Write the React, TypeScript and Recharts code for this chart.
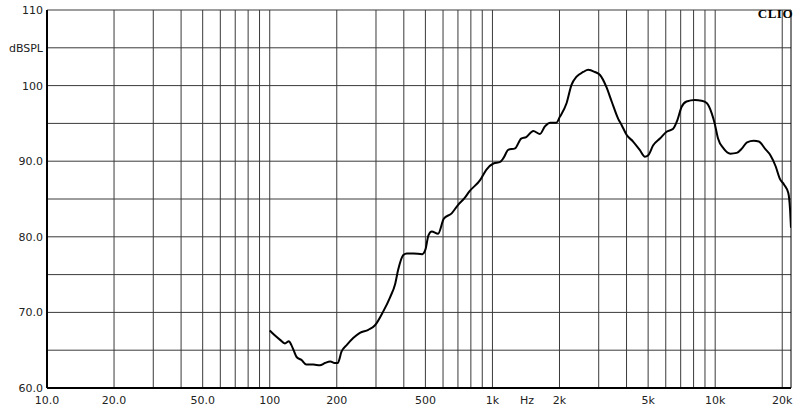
import { CartesianGrid, Line, LineChart, ReferenceLine, XAxis, YAxis } from "recharts";

// frequency response (Hz / dB SPL)
const freqs = [
  100, 105, 111, 117, 122, 125, 128, 132, 139, 146, 157, 168, 177, 187, 197, 202, 210, 222, 237, 254,
  277, 297, 323, 347, 366, 377, 398, 413, 442, 483, 500, 516, 534, 570, 605, 656, 700, 749, 788, 880,
  940, 1010, 1083, 1120, 1177, 1264, 1346, 1418, 1525, 1634, 1720, 1820, 1935, 2010, 2153, 2264, 2387,
  2557, 2690, 2885, 3040, 3250, 3430, 3670, 3800, 4000, 4280, 4585, 4837, 5005, 5270, 5650, 6050, 6480,
  6760, 7070, 7440, 8110, 8680, 9160, 9660, 9950, 10300, 10900, 11700, 12500, 13200, 13900, 14900,
  15700, 16800, 17700, 18700, 19500, 20400, 21300, 21700, 21900,
];
const spl = [
  67.6, 67.0, 66.4, 65.9, 66.2, 65.7, 65.0, 64.1, 63.7, 63.1, 63.1, 63.0, 63.3, 63.5, 63.3, 63.3, 64.8,
  65.7, 66.6, 67.3, 67.7, 68.3, 70.1, 72.0, 73.8, 75.6, 77.6, 77.8, 77.8, 77.7, 78.3, 80.2, 80.7, 80.4,
  82.4, 83.1, 84.2, 85.1, 86.0, 87.5, 88.9, 89.7, 89.9, 90.4, 91.5, 91.7, 93.0, 93.2, 94.0, 93.6, 94.6,
  95.1, 95.1, 95.9, 97.7, 100.1, 101.2, 101.8, 102.1, 101.8, 101.4, 99.8, 97.9, 95.6, 94.8, 93.5, 92.6,
  91.5, 90.6, 90.8, 92.1, 93.0, 93.9, 94.3, 95.4, 97.2, 97.9, 98.1, 98.0, 97.7, 96.3, 95.0, 93.0, 91.7,
  91.0, 91.1, 91.7, 92.5, 92.7, 92.6, 91.6, 90.8, 89.3, 87.7, 86.9, 85.8, 83.5, 81.2,
];

const xLabelTicks = [10, 20, 50, 100, 200, 500, 1000, 1430, 2000, 5000, 10000, 20000];
const xLabels: Record<number, string> = {
  10: "10.0", 20: "20.0", 50: "50.0", 100: "100", 200: "200", 500: "500",
  1000: "1k", 1430: "Hz", 2000: "2k", 5000: "5k", 10000: "10k", 20000: "20k",
};
const xGrid = [
  20, 30, 40, 50, 60, 70, 80, 90, 100, 200, 300, 400, 500, 600, 700, 800, 900, 1000,
  2000, 3000, 4000, 5000, 6000, 7000, 8000, 9000, 10000, 20000,
];
const yTicks = [60, 65, 70, 75, 80, 85, 90, 95, 100, 105, 110];
const yLabels: Record<number, string> = {
  60: "60.0", 70: "70.0", 80: "80.0", 90: "90.0", 100: "100", 105: "dBSPL", 110: "110",
};
const yMinor = Array.from({ length: 51 }, (_, i) => 60 + i);

const data = freqs.map((f, i) => ({ f, db: spl[i] }));

const font = { fontSize: 11, fill: "#222", fontFamily: "DejaVu Sans" };

export default function App() {
  return (
    <div style={{ position: "absolute", left: 0, top: 0, width: 800, height: 407, background: "#fff" }}>
      <LineChart width={800} height={407} data={data} margin={{ top: 10, right: 0, bottom: 0, left: 0 }}>
        <CartesianGrid vertical={false} stroke="#3a3a3a" strokeWidth={1} />
        <XAxis
          dataKey="f"
          type="number"
          scale="log"
          domain={[10, 21900]}
          allowDataOverflow
          ticks={xLabelTicks}
          tickFormatter={(v) => xLabels[v] ?? ""}
          tickLine={false}
          axisLine={{ stroke: "#000", strokeWidth: 2 }}
          tick={font}
          height={19}
          interval={0}
        />
        <YAxis
          domain={[60, 110]}
          ticks={yTicks}
          tickFormatter={(v) => yLabels[v] ?? ""}
          tickLine={false}
          tickSize={2}
          tickMargin={2}
          axisLine={{ stroke: "#000", strokeWidth: 2 }}
          tick={font}
          width={47}
          interval={0}
          allowDataOverflow
        />
        <YAxis
          yAxisId="minor"
          domain={[60, 110]}
          ticks={yMinor}
          mirror
          tick={false}
          tickSize={3}
          axisLine={false}
          tickLine={{ stroke: "#000" }}
          interval={0}
        />
        <YAxis
          yAxisId="right"
          orientation="right"
          domain={[60, 110]}
          ticks={yMinor}
          tick={false}
          tickSize={3}
          width={9}
          axisLine={{ stroke: "#000" }}
          tickLine={{ stroke: "#333" }}
          interval={0}
        />
        {xGrid.map((f) => (
          <ReferenceLine key={f} x={f} stroke="#3a3a3a" strokeWidth={1} />
        ))}
        <Line
          type="monotone"
          dataKey="db"
          stroke="#000"
          strokeWidth={2}
          dot={false}
          isAnimationActive={false}
        />
      </LineChart>
      <div
        style={{
          position: "absolute",
          right: 7,
          top: 6,
          fontFamily: "Liberation Serif",
          fontWeight: "bold",
          fontSize: 13,
          letterSpacing: 0.5,
          color: "#000",
        }}
      >
        CLIO
      </div>
    </div>
  );
}
